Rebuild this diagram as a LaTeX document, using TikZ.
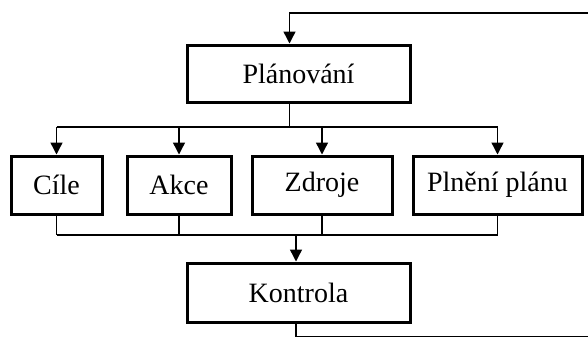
\documentclass[tikz,border=0pt]{standalone}
\usepackage{fontspec}
\setmainfont{Liberation Serif}
\usetikzlibrary{arrows.meta,calc}
\begin{document}
\begin{tikzpicture}[x=1pt,y=-1pt,
  box/.style={draw,line width=3pt,inner sep=0pt,font=\fontsize{28}{32}\selectfont},
  conn/.style={line width=1.4pt},
  arr/.style={conn,-{Triangle[length=12pt,width=12pt]}}]
\useasboundingbox (0,0) rectangle (588,338);
\node[box,minimum width=223pt,minimum height=57pt] (plan) at (298.5,73.5) {Plánování};
\node[box,minimum width=91pt,minimum height=58pt] (cile) at (56.5,185) {Cíle};
\node[box,minimum width=104pt,minimum height=58pt] (akce) at (179,185) {Akce};
\node[box,minimum width=140pt,minimum height=58pt] (zdroje) at (322,185) {Zdroje};
\node[box,minimum width=169pt,minimum height=58pt] (plneni) at (497.5,185) {Plnění plánu};
\node[box,minimum width=223pt,minimum height=59pt] (kontrola) at (298.5,292.5) {Kontrola};
\coordinate (tr) at (588,13);
\coordinate (br) at (588,336.5);
\coordinate (pin) at ($(plan.north)+(-9,0)$);
\coordinate (pout) at ($(plan.south)+(-9,0)$);
\coordinate (kin) at ($(kontrola.north)+(-2.5,0)$);
\coordinate (kout) at ($(kontrola.south)+(-2.5,0)$);
\coordinate (bus) at (0,127);
\coordinate (bus2) at (0,235);
% feedback loop
\draw[arr] (tr) -| (pin);
\draw[conn] (kout) |- (br);
% distribution
\draw[conn] (pout) -- (pout |- bus);
\draw[conn] (cile.north |- bus) -- (plneni.north |- bus);
\foreach \n in {cile,akce,zdroje,plneni}
  \draw[arr] (\n.north |- bus) -- (\n.north);
% collection
\foreach \n in {cile,akce,zdroje,plneni}
  \draw[conn] (\n.south) -- (\n.south |- bus2);
\draw[conn] (cile.south |- bus2) -- (plneni.south |- bus2);
\draw[arr] (kin |- bus2) -- (kin);
\end{tikzpicture}
\end{document}
